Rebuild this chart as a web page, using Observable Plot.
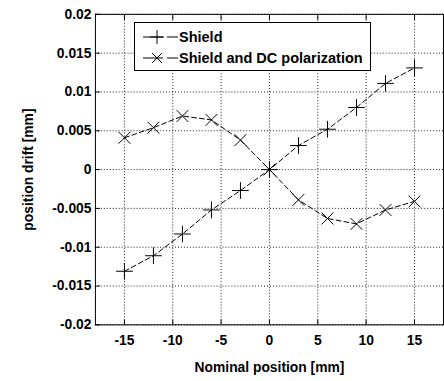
<!DOCTYPE html>
<html><head><meta charset="utf-8">
<script src="https://cdn.jsdelivr.net/npm/d3@7"></script>
<script src="https://cdn.jsdelivr.net/npm/@observablehq/plot@0.6"></script>
<style>
html,body{margin:0;padding:0;background:#fff;overflow:hidden;}
#wrap{position:relative;width:444px;height:381px;overflow:hidden;}
#legend{position:absolute;left:134px;top:22px;width:237px;height:49px;border:1px solid #000;background:#fff;box-sizing:border-box;font:bold 14.5px "Liberation Sans",Arial,sans-serif;color:#000;padding-top:3px;}
.row{display:flex;align-items:center;height:21px;padding-left:8px;}
.row svg{margin-right:1px;}
</style></head><body><div id="wrap"></div>
<script>
const positions = [-15, -12, -9, -6, -3, 0, 3, 6, 9, 12, 15];
const shield = [-0.0131, -0.0111, -0.0083, -0.0052, -0.0027, 0, 0.0031, 0.0052, 0.0080, 0.0111, 0.0131];
const shieldDC = [0.0041, 0.0054, 0.0069, 0.0064, 0.0038, 0, -0.0039, -0.0063, -0.0070, -0.0052, -0.0041];
const seriesNames = ["Shield", "Shield and DC polarization"];
const seriesSymbols = ["plus", "times"];
const xTicks = [-15, -10, -5, 0, 5, 10, 15];
const xTickLabels = ["-15", "-10", "-5", "0", "5", "10", "15"];
const yTicks = [-0.02, -0.015, -0.01, -0.005, 0, 0.005, 0.01, 0.015, 0.02];
const yTickLabels = ["-0.02", "-0.015", "-0.01", "-0.005", "0", "0.005", "0.01", "0.015", "0.02"];
const xDomain = [-18, 18];
const yDomain = [-0.02, 0.02];

const data = [];
[shield, shieldDC].forEach((vals, s) => positions.forEach((x, i) => data.push({x, y: vals[i], series: seriesNames[s]})));

const lookup = (ticks, labels) => d => labels[ticks.findIndex(t => Math.abs(t - d) < 1e-9)];

const grid = {stroke: "#000", strokeOpacity: 0.9, strokeDasharray: "1,2", strokeWidth: 1};
const chart = Plot.plot({
  width: 449, height: 381,
  marginLeft: 96, marginRight: 1, marginTop: 14, marginBottom: 53,
  style: {fontFamily: "'Liberation Sans', Arial, sans-serif", fontSize: "14px", fontWeight: "bold", color: "#000", background: "#fff"},
  x: {domain: xDomain},
  y: {domain: yDomain},
  symbol: {domain: seriesNames, range: seriesSymbols},
  marks: [
    Plot.gridX(xTicks, grid),
    Plot.gridY(yTicks, grid),
    Plot.line(data, {x: "x", y: "y", z: "series", stroke: "#000", strokeWidth: 1, strokeDasharray: "5,3"}),
    Plot.dot(data, {x: "x", y: "y", symbol: "series", r: 5.5, stroke: "#000", strokeWidth: 1}),
    Plot.frame({stroke: "#000", strokeWidth: 1}),
    Plot.axisX(xTicks, {anchor: "bottom", tickSize: -5, tickPadding: 15, tickFormat: lookup(xTicks, xTickLabels), label: "Nominal position [mm]", labelAnchor: "center", labelArrow: "none", labelOffset: 48}),
    Plot.axisX(xTicks, {anchor: "top", tickSize: -5, tickFormat: () => "", label: null}),
    Plot.axisY(yTicks, {anchor: "left", tickSize: -5, tickPadding: 9, tickFormat: lookup(yTicks, yTickLabels), label: "position drift [mm]", labelAnchor: "center", labelArrow: "none", labelOffset: 73})
  ]
});
const wrap = document.getElementById("wrap");
wrap.appendChild(chart);

const legend = document.createElement("div");
legend.id = "legend";
seriesNames.forEach((name, i) => {
  const row = document.createElement("div");
  row.className = "row";
  const sym = seriesSymbols[i] === "plus" ? d3.symbolPlus : d3.symbolTimes;
  const path = d3.symbol(sym, 64)();
  row.innerHTML = `<svg width="35" height="16"><line x1="0" x2="35" y1="8" y2="8" stroke="#000" stroke-dasharray="20,4,11"/><path d="${path}" transform="translate(14,8)" fill="none" stroke="#000"/></svg><span>${name}</span>`;
  legend.appendChild(row);
});
wrap.appendChild(legend);
</script>
</body></html>
